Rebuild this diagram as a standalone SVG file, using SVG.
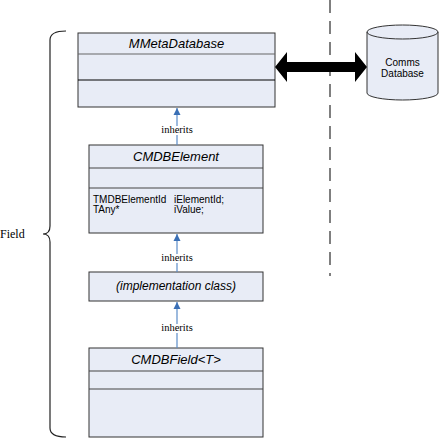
<svg xmlns="http://www.w3.org/2000/svg" width="440" height="440" viewBox="0 0 440 440">
<style>
.box{fill:#E8ECF6;stroke:#333;stroke-width:1}
.div{stroke:#444;stroke-width:1.2}
.title{font-family:"Liberation Sans",Arial,sans-serif;font-style:italic;font-size:13px;fill:#000;text-anchor:middle}
.attr{font-family:"Liberation Sans",Arial,sans-serif;font-size:10px;fill:#000}
.lbl{font-family:"Liberation Serif","Times New Roman",serif;font-size:10.5px;fill:#000;text-anchor:middle;paint-order:stroke;stroke:#fff;stroke-width:4}
.inh{stroke:#5B8CC8;stroke-width:1.2;fill:none}
</style>
<defs>
<marker id="tri" viewBox="0 0 10 10" refX="10" refY="5" markerWidth="7" markerHeight="10" markerUnits="userSpaceOnUse" orient="auto">
<path d="M0,0 L10,5 L0,10 Z" fill="#3A6FB5"/>
</marker>
</defs>
<g id="brace">
<path d="M66,31 Q50,31 50,40 L50,226 Q50,234 43,234 Q50,234 50,242 L50,428 Q50,437 66,437" fill="none" stroke="#222" stroke-width="1.2"/>
<text x="0" y="238" style="font-family:'Liberation Serif','Times New Roman',serif;font-size:12px">Field</text>
</g>
<g id="boundary">
<line x1="330" y1="0" x2="330" y2="276" stroke="#555" stroke-width="1.5" stroke-dasharray="13,8"/>
</g>
<g id="MMetaDatabase">
<rect class="box" x="78" y="33" width="197" height="74"/>
<line x1="78" y1="54" x2="275" y2="54" stroke="#666" stroke-width="1.2"/>
<line x1="78" y1="80" x2="275" y2="80" stroke="#000" stroke-width="1.2"/>
<text class="title" x="176.5" y="48">MMetaDatabase</text>
</g>
<g id="CMDBElement">
<rect class="box" x="89" y="145" width="174" height="88"/>
<line class="div" x1="89" y1="168" x2="263" y2="168"/>
<line class="div" x1="89" y1="188" x2="263" y2="188"/>
<text class="title" x="176" y="161">CMDBElement</text>
<text class="attr" x="93" y="203">TMDBElementId</text>
<text class="attr" x="174" y="203">iElementId;</text>
<text class="attr" x="93" y="213">TAny*</text>
<text class="attr" x="174" y="213">iValue;</text>
</g>
<g id="implementation">
<rect class="box" x="89" y="272" width="174" height="29"/>
<text class="title" x="176" y="290" style="font-size:12px">(implementation class)</text>
</g>
<g id="CMDBField">
<rect class="box" x="89" y="348" width="174" height="89"/>
<line class="div" x1="89" y1="371" x2="263" y2="371"/>
<line class="div" x1="89" y1="389" x2="263" y2="389"/>
<text class="title" x="176" y="364">CMDBField&lt;T&gt;</text>
</g>
<g id="CommsDatabase">
<path d="M367,32 V93 A35.5,7 0 0 0 438,93 V32 A35.5,7 0 0 0 367,32 Z" fill="#E8ECF6" stroke="#333" stroke-width="1"/>
<path d="M367,32 A35.5,7 0 0 0 438,32" fill="none" stroke="#333" stroke-width="1"/>
<text x="402.5" y="66" text-anchor="middle" style="font-family:'Liberation Sans',Arial,sans-serif;font-size:10px">Comms</text>
<text x="402.5" y="77" text-anchor="middle" style="font-family:'Liberation Sans',Arial,sans-serif;font-size:10px">Database</text>
</g>
<g id="connectors">
<line class="inh" x1="177" y1="145" x2="177" y2="108" marker-end="url(#tri)"/>
<line class="inh" x1="177" y1="272" x2="177" y2="234" marker-end="url(#tri)"/>
<line class="inh" x1="177" y1="348" x2="177" y2="302" marker-end="url(#tri)"/>
<text class="lbl" x="177" y="133">inherits</text>
<text class="lbl" x="177" y="261">inherits</text>
<text class="lbl" x="177" y="331">inherits</text>
<path d="M275,67 L287,52 L287,62 L355,62 L355,52 L367,67 L355,82 L355,72 L287,72 L287,82 Z" fill="#000"/>
</g>
</svg>
